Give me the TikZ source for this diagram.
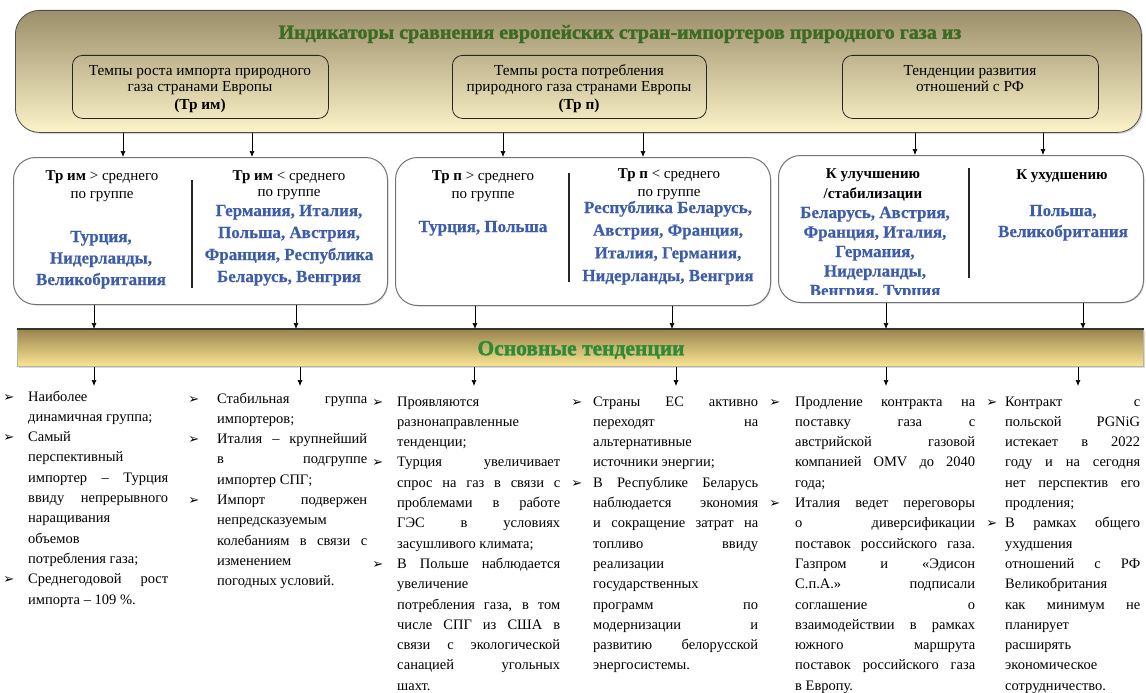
\documentclass[tikz,border=0pt]{standalone}
\usepackage{fontspec}
\setmainfont{Liberation Serif}
\newfontfamily\dejavu{DejaVu Sans}
\newfontfamily\heavyfont[FakeBold=1.5]{Liberation Serif}
\newfontfamily\semifont[FakeBold=0.4]{Liberation Serif}
\usetikzlibrary{shadows,arrows.meta}
\definecolor{tgTop}{HTML}{9C8F6B}
\definecolor{tgBot}{HTML}{FCF3C9}
\definecolor{bnTop}{HTML}{9A854F}
\definecolor{bnBot}{HTML}{FAE593}
\definecolor{ttlgreen}{HTML}{3E6B24}
\definecolor{bngreen}{HTML}{2E8A36}
\definecolor{cblue}{HTML}{3D5DA8}
\newcommand\ctext[4]{\parbox[t]{#1}{\centering\fontsize{#2}{#3}\selectfont #4}}
\newcommand\bul[1]{\leavevmode\llap{{\dejavu\fontsize{13}{13}\selectfont ➢}\hspace{#1pt}}}
\newcommand\J[1]{\makebox[\linewidth][s]{#1}}
\newcommand\coltext[2]{\parbox[t]{#1}{\fontsize{14.5}{20.3}\selectfont #2}}
\begin{document}
\begin{tikzpicture}[x=1pt,y=-1pt,
  topb/.style={draw=black!70, line width=0.8pt, rounded corners=24pt, top color=tgTop, bottom color=tgBot,
    drop shadow={shadow xshift=1.5pt, shadow yshift=-1.5pt, opacity=0.35}, anchor=north west, inner sep=0pt},
  subb/.style={draw=black!85, line width=0.8pt, rounded corners=10pt, anchor=north west, inner sep=0pt, minimum height=63pt},
  midb/.style={draw=black!55, line width=1pt, rounded corners=22pt, fill=white, anchor=north west, inner sep=0pt,
    drop shadow={shadow xshift=1pt, shadow yshift=-1pt, opacity=0.25}},
  bann/.style={draw=black!30, line width=0.6pt, top color=bnTop, bottom color=bnBot, anchor=north west, inner sep=0pt,
    drop shadow={shadow xshift=1.5pt, shadow yshift=-1.5pt, opacity=0.3}},
  txt/.style={anchor=base, inner sep=0pt},
  bluet/.style={anchor=base, inner sep=0pt, text=cblue},
  col/.style={anchor=base west, inner sep=0pt},
  sepl/.style={line width=1.2pt, black!85},
  arr/.style={-{Latex[length=6pt,width=5pt]}, line width=0.7pt, black}]
\useasboundingbox (0,0) rectangle (1146,693);

% top block
\node[topb, minimum width=1126pt, minimum height=122pt] (topbox) at (15,10) {};
\node[inner sep=0pt, text=ttlgreen] (title) at (620,34)
  {\heavyfont\bfseries\fontsize{20}{22}\selectfont Индикаторы сравнения европейских стран-импортеров природного газа из};
\node[subb, minimum width=256pt] (s1) at (72,55) {};
\node[subb, minimum width=254pt] (s2) at (452,55) {};
\node[subb, minimum width=256pt] (s3) at (842,55) {};
\node[txt] (s1t) at (200,75) {\ctext{250pt}{15.3}{17}{Темпы роста импорта природного\\газа странами Европы\\\textbf{(Тр им)}}};
\node[txt] (s2t) at (579,75) {\ctext{250pt}{15.3}{17}{Темпы роста потребления\\природного газа странами Европы\\\textbf{(Тр п)}}};
\node[txt] (s3t) at (970,75) {\ctext{250pt}{15.3}{17}{Тенденции развития\\отношений с РФ}};

% middle boxes
\node[midb, minimum width=374pt, minimum height=147pt] (bA) at (13,157) {};
\node[midb, minimum width=375pt, minimum height=148pt] (bB) at (395,157) {};
\node[midb, minimum width=365pt, minimum height=147pt] (bC) at (778,155) {};

\draw[sepl] (192,180) -- (192,288);
\draw[sepl] (569,173) -- (569,282);
\draw[sepl] (969,168) -- (969,278);

\node[txt] (hA1) at (102,180) {\ctext{170pt}{15}{18}{\textbf{Тр им} > среднего\\по группе}};
\node[bluet] (vA1) at (101,242) {\ctext{170pt}{17}{21.5}{\semifont\bfseries Турция,\\Нидерланды,\\Великобритания}};
\node[txt] (hA2) at (289,180) {\ctext{180pt}{15}{16}{\textbf{Тр им} < среднего\\по группе}};
\node[bluet] (vA2) at (289,216) {\ctext{190pt}{17}{22}{\semifont\bfseries Германия, Италия,\\Польша, Австрия,\\Франция, Республика\\Беларусь, Венгрия}};

\node[txt] (hB1) at (483,180) {\ctext{170pt}{15}{18}{\textbf{Тр п} > среднего\\по группе}};
\node[bluet] (vB1) at (483,232) {\ctext{170pt}{17}{21}{\semifont\bfseries Турция, Польша}};
\node[txt] (hB2) at (669,178) {\ctext{190pt}{15}{18}{\textbf{Тр п} < среднего\\по группе}};
\node[bluet] (vB2) at (668,213) {\ctext{200pt}{17}{22.7}{\semifont\bfseries Республика Беларусь,\\Австрия, Франция,\\Италия, Германия,\\Нидерланды, Венгрия}};

\node[txt] (hC1) at (873,178) {\ctext{170pt}{15}{20}{\bfseries К улучшению\\/стабилизации}};
\begin{scope}
\clip (779,156) rectangle (1142,294);
\node[bluet] (vC1) at (875,218) {\ctext{180pt}{17}{19.5}{\semifont\bfseries Беларусь, Австрия,\\Франция, Италия,\\Германия,\\Нидерланды,\\Венгрия, Турция}};
\end{scope}
\node[txt] (hC2) at (1062,179) {\ctext{150pt}{15}{18}{\bfseries К ухудшению}};
\node[bluet] (vC2) at (1063,216) {\ctext{160pt}{17}{21}{\semifont\bfseries Польша,\\Великобритания}};

% banner
\node[bann, minimum width=1126pt, minimum height=37pt] (banner) at (17,329) {};
\draw[line width=1.6pt, black!80] (banner.north west) -- (banner.north east);
\node[inner sep=0pt, text=bngreen] (bannert) at (581,350)
  {\heavyfont\bfseries\fontsize{21.5}{24}\selectfont Основные тенденции};

% arrow x positions
\coordinate (a1) at (123,0); \coordinate (a2) at (252,0);
\coordinate (a3) at (503,0); \coordinate (a4) at (643,0);
\coordinate (a5) at (915,0); \coordinate (a6) at (1043,0);
\coordinate (b1) at (94,0);  \coordinate (b2) at (296,0);
\coordinate (b3) at (475,0); \coordinate (b4) at (672,0);
\coordinate (b5) at (886,0); \coordinate (b6) at (1083,0);
\coordinate (e1) at (94,386);  \coordinate (e2) at (300,386);
\coordinate (e3) at (474,386); \coordinate (e4) at (676,386);
\coordinate (e5) at (886,386); \coordinate (e6) at (1078,386);

\draw[arr] (topbox.south -| a1) -- (bA.north -| a1);
\draw[arr] (topbox.south -| a2) -- (bA.north -| a2);
\draw[arr] (topbox.south -| a3) -- (bB.north -| a3);
\draw[arr] (topbox.south -| a4) -- (bB.north -| a4);
\draw[arr] (topbox.south -| a5) -- (bC.north -| a5);
\draw[arr] (topbox.south -| a6) -- (bC.north -| a6);

\draw[arr] (bA.south -| b1) -- (banner.north -| b1);
\draw[arr] (bA.south -| b2) -- (banner.north -| b2);
\draw[arr] (bB.south -| b3) -- (banner.north -| b3);
\draw[arr] (bB.south -| b4) -- (banner.north -| b4);
\draw[arr] (bC.south -| b5) -- (banner.north -| b5);
\draw[arr] (bC.south -| b6) -- (banner.north -| b6);

\draw[arr] (banner.south -| e1) -- (e1);
\draw[arr] (banner.south -| e2) -- (e2);
\draw[arr] (banner.south -| e3) -- (e3);
\draw[arr] (banner.south -| e4) -- (e4);
\draw[arr] (banner.south -| e5) -- (e5);
\draw[arr] (banner.south -| e6) -- (e6);

% bottom columns
\node[col] (c1) at (28,401) {\coltext{140pt}{%
\bul{14}Наиболее\\
динамичная группа;\\
\bul{14}Самый\\
перспективный\\
\J{импортер – Турция}\\
\J{ввиду непрерывного}\\
наращивания\\
объемов\\
потребления газа;\\
\bul{14}\J{Среднегодовой рост}\\
импорта – 109 \%.}};

\node[col] (c2) at (217,403) {\coltext{150pt}{%
\bul{18}\J{Стабильная группа}\\
импортеров;\\
\bul{18}\J{Италия – крупнейший}\\
\J{в подгруппе}\\
импортер СПГ;\\
\bul{18}\J{Импорт подвержен}\\
непредсказуемым\\
\J{колебаниям в связи с}\\
изменением\\
погодных условий.}};

\node[col] (c3) at (397,406) {\coltext{163pt}{%
\bul{14}Проявляются\\
разнонаправленные\\
тенденции;\\
\bul{14}\J{Турция увеличивает}\\
\J{спрос на газ в связи с}\\
\J{проблемами в работе}\\
\J{ГЭС в условиях}\\
засушливого климата;\\
\bul{14}\J{В Польше наблюдается}\\
увеличение\\
\J{потребления газа, в том}\\
\J{числе СПГ из США в}\\
\J{связи с экологической}\\
\J{санацией угольных}\\
шахт.}};

\node[col] (c4) at (593,406) {\coltext{165pt}{%
\bul{11}\J{Страны ЕС активно}\\
\J{переходят на}\\
альтернативные\\
источники энергии;\\
\bul{11}\J{В Республике Беларусь}\\
\J{наблюдается экономия}\\
\J{и сокращение затрат на}\\
\J{топливо ввиду}\\
реализации\\
государственных\\
\J{программ по}\\
\J{модернизации и}\\
\J{развитию белорусской}\\
энергосистемы.}};

\node[col] (c5) at (795,406) {\coltext{180pt}{%
\bul{15}\J{Продление контракта на}\\
\J{поставку газа с}\\
\J{австрийской газовой}\\
\J{компанией OMV до 2040}\\
года;\\
\bul{15}\J{Италия ведет переговоры}\\
\J{о диверсификации}\\
\J{поставок российского газа.}\\
\J{Газпром и «Эдисон}\\
\J{С.п.А.» подписали}\\
\J{соглашение о}\\
\J{взаимодействии в рамках}\\
\J{южного маршрута}\\
\J{поставок российского газа}\\
в Европу.}};

\node[col] (c6) at (1005,406) {\coltext{135pt}{%
\bul{8}\J{Контракт с}\\
\J{польской PGNiG}\\
\J{истекает в 2022}\\
\J{году и на сегодня}\\
\J{нет перспектив его}\\
продления;\\
\bul{8}\J{В рамках общего}\\
ухудшения\\
\J{отношений с РФ}\\
Великобритания\\
\J{как минимум не}\\
планирует\\
расширять\\
экономическое\\
сотрудничество.}};
\end{tikzpicture}
\end{document}
